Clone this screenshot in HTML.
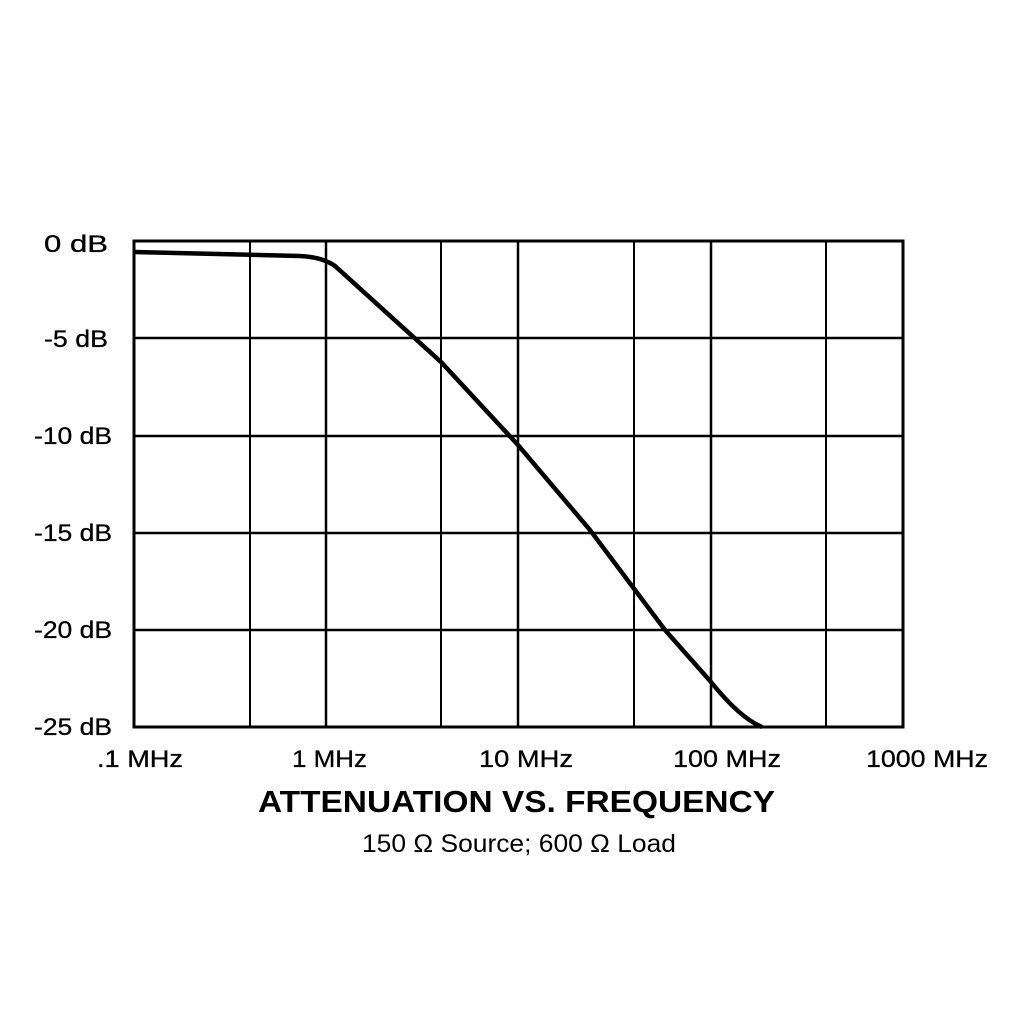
<!DOCTYPE html>
<html><head><style>
body{margin:0;background:#fff;width:1024px;height:1024px;overflow:hidden}
svg text{font-family:"Liberation Sans",Arial,sans-serif;fill:#000}
</style></head><body>
<svg width="1024" height="1024" viewBox="0 0 1024 1024">
<g stroke="#000" fill="none">
<g stroke-width="2">
<line x1="250" y1="241" x2="250" y2="727"/>
<line x1="441" y1="241" x2="441" y2="727"/>
<line x1="634" y1="241" x2="634" y2="727"/>
<line x1="826" y1="241" x2="826" y2="727"/>
</g>
<g stroke-width="2.5">
<line x1="134" y1="338" x2="903" y2="338"/>
<line x1="134" y1="436" x2="903" y2="436"/>
<line x1="134" y1="533" x2="903" y2="533"/>
<line x1="134" y1="630" x2="903" y2="630"/>
<line x1="326" y1="241" x2="326" y2="727"/>
<line x1="518" y1="241" x2="518" y2="727"/>
<line x1="711" y1="241" x2="711" y2="727"/>
</g>
<rect x="134" y="241" width="769" height="486" stroke-width="3"/>
<path d="M134,252 L300,256 Q322,257 335,266 L441,362 L518,445 L590,530 L665,630 L711,682 Q740,718 762,727" stroke-width="4.5"/>
</g>
<g font-size="24" text-anchor="end" stroke="#000" stroke-width="0.3">
<text x="108" y="252" textLength="64" lengthAdjust="spacingAndGlyphs">0 dB</text>
<text x="108" y="347" textLength="64" lengthAdjust="spacingAndGlyphs">-5 dB</text>
<text x="112" y="444" textLength="78" lengthAdjust="spacingAndGlyphs">-10 dB</text>
<text x="112" y="541" textLength="78" lengthAdjust="spacingAndGlyphs">-15 dB</text>
<text x="112" y="638" textLength="78" lengthAdjust="spacingAndGlyphs">-20 dB</text>
<text x="112" y="735" textLength="78" lengthAdjust="spacingAndGlyphs">-25 dB</text>
</g>
<g font-size="24" stroke="#000" stroke-width="0.3">
<text x="97" y="767" textLength="86" lengthAdjust="spacingAndGlyphs">.1 MHz</text>
<text x="292" y="767" textLength="75" lengthAdjust="spacingAndGlyphs">1 MHz</text>
<text x="479" y="767" textLength="94" lengthAdjust="spacingAndGlyphs">10 MHz</text>
<text x="673" y="767" textLength="108" lengthAdjust="spacingAndGlyphs">100 MHz</text>
<text x="866" y="767" textLength="122" lengthAdjust="spacingAndGlyphs">1000 MHz</text>
</g>
<text x="258" y="812" font-size="31" font-weight="bold" textLength="517" lengthAdjust="spacingAndGlyphs">ATTENUATION VS. FREQUENCY</text>
<text x="362" y="852" font-size="25" textLength="314" lengthAdjust="spacingAndGlyphs">150 Ω Source; 600 Ω Load</text>
</svg>
</body></html>
